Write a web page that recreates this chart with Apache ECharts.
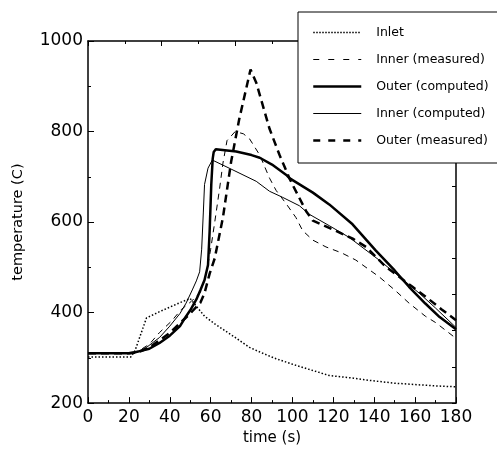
<!DOCTYPE html>
<html>
<head>
<meta charset="utf-8">
<script src="https://cdn.jsdelivr.net/npm/echarts@6/dist/echarts.min.js"></script>
<style>
  html, body { margin: 0; padding: 0; background: #fff; }
  #chart { width: 497px; height: 451px; }
</style>
</head>
<body>
<div id="chart"></div>
<script>
// Temperature histories, [time (s), temperature (C)]
const inlet = [[0,302],[10,302],[21,302],[23,316],[28.6,388],[35,402],[40,412],[45,422],[50,431],
  [53,414],[57,392],[62,375],[66,363],[72,345],[79,323],[86,309],[92,298],[100,286],[107,276],
  [118,261],[130,255],[138,250],[150,244],[160,241],[170,238],[180,236]];

const innerMeasured = [[0,310],[20,310],[25,316],[30,330],[35,356],[40.8,381],[45.7,407],[50.6,425],
  [55,445],[58,490],[60,540],[62,600],[64.4,675],[66,730],[68,780],[72,800],[76,795],[79,784],
  [84,748],[88.8,697],[92,670],[97,640],[101.7,610],[105,581],[110,560],[116.4,545],[124,532],
  [131,516],[142.4,479],[150,450],[157,421],[165,392],[170,378],[180,343]];

const outerComputed = [[0,310],[20,310],[23,312],[30,320],[35,333],[40,349],[45,370],[48,392],
  [50,405],[53,429],[55,450],[57,472],[58.7,505],[59.5,580],[60.3,683],[61,740],[61.5,755],
  [62.5,761],[72.5,756],[80,748],[84,742],[90,727],[97,704],[98.5,697],[110,665],[118,639],
  [129.4,595],[140.8,537],[150,493],[157,457],[165,420],[172,390],[180,363]];

const innerComputed = [[0,310],[20,310],[24,313],[28.6,323],[35,345],[40,370],[45,398],[48,421],
  [51,450],[53,470],[54.6,490],[55.6,540],[56.4,620],[57,683],[58.7,719],[60.8,737],[70,717],
  [82.3,690],[88.8,668],[95,655],[103.4,636],[108.3,617],[118,592],[127.8,566],[142.4,516],
  [150,488],[162,443],[170,410],[180,367]];

const outerMeasured = [[0,310],[20,310],[25,313],[30,323],[40,355],[50,398],[55,422],[57,443],
  [59.5,486],[62,520],[66,610],[70,733],[74,828],[79.5,937],[82.3,908],[88.8,806],[93.7,748],
  [98.5,697],[100,683],[106.7,624],[110,603],[121,581],[130,562],[136,545],[145.7,501],
  [158.7,457],[166,432],[173,407],[180,383]];

const FONT = '"DejaVu Sans", Verdana, sans-serif';
const INK = '#000';

// One line style per curve in the plot, and a matching sample for the legend
const styles = {
  'Inlet':            { color: INK, width: 1.5, type: [1.5, 2] },
  'Inner (measured)': { color: INK, width: 1, type: [6, 5] },
  'Outer (computed)': { color: INK, width: 2.5, type: 'solid' },
  'Inner (computed)': { color: INK, width: 1, type: 'solid' },
  'Outer (measured)': { color: INK, width: 2.5, type: [8, 5] }
};
const legendStyles = {
  'Inlet':            { color: INK, width: 1.5, type: [1.5, 1.5] },
  'Inner (measured)': { color: INK, width: 1.2, type: [6, 9] },
  'Outer (computed)': { color: INK, width: 2.5, type: 'solid' },
  'Inner (computed)': { color: INK, width: 1, type: 'solid' },
  'Outer (measured)': { color: INK, width: 2.5, type: [7, 8] }
};

const frameAxis = {
  axisLine: { show: true, onZero: false, lineStyle: { color: INK, width: 1.5 } },
  splitLine: { show: false }
};

const chart = echarts.init(document.getElementById('chart'), null, { renderer: 'canvas' });

chart.setOption({
  animation: false,
  backgroundColor: '#fff',
  grid: { left: 88, right: 41, top: 41, bottom: 43 },
  legend: {
    orient: 'vertical',
    left: 298,
    top: 12,
    itemWidth: 48,
    itemHeight: 14,
    itemGap: 14,
    padding: [14, 60, 16, 14],
    backgroundColor: '#fff',
    borderColor: INK,
    borderWidth: 1,
    selectedMode: false,
    itemStyle: { opacity: 0, color: 'rgba(0,0,0,0)', borderColor: 'rgba(0,0,0,0)', borderWidth: 0 },
    textStyle: { fontFamily: FONT, fontSize: 12.5, color: INK, padding: [0, 0, 0, 10] },
    data: Object.keys(legendStyles).map(name => ({ name, lineStyle: legendStyles[name] }))
  },
  xAxis: [
    Object.assign({
      type: 'value', position: 'bottom', min: 0, max: 180, interval: 20,
      axisTick: { inside: true, length: 6, lineStyle: { color: INK, width: 1 } },
      minorTick: { show: true, splitNumber: 2, length: 3, lineStyle: { color: INK, width: 1 } },
      axisLabel: { color: INK, fontFamily: FONT, fontSize: 17, margin: 6 },
      name: 'time (s)', nameLocation: 'middle', nameGap: 26,
      nameTextStyle: { color: INK, fontFamily: FONT, fontSize: 15 }
    }, frameAxis),
    Object.assign({
      type: 'value', position: 'top', min: 0, max: 200, interval: 40,
      axisTick: { inside: true, length: 5, lineStyle: { color: INK, width: 1 } },
      minorTick: { show: true, splitNumber: 2, length: 3, lineStyle: { color: INK, width: 1 } },
      axisLabel: { show: false }
    }, frameAxis)
  ],
  yAxis: [
    Object.assign({
      type: 'value', position: 'left', min: 200, max: 1000, interval: 200,
      axisTick: { inside: true, length: 6, lineStyle: { color: INK, width: 1 } },
      minorTick: { show: true, splitNumber: 2, length: 3, lineStyle: { color: INK, width: 1 } },
      axisLabel: { color: INK, fontFamily: FONT, fontSize: 17, margin: 5, formatter: v => String(v) },
      name: 'temperature (C)', nameLocation: 'middle', nameGap: 62,
      nameTextStyle: { color: INK, fontFamily: FONT, fontSize: 14.5 }
    }, frameAxis),
    Object.assign({
      type: 'value', position: 'right', min: 0, max: 10, interval: 1,
      axisTick: { inside: true, length: 4, lineStyle: { color: INK, width: 1 } },
      axisLabel: { show: false }
    }, frameAxis)
  ],
  series: [
    { name: 'Inlet', data: inlet },
    { name: 'Inner (measured)', data: innerMeasured },
    { name: 'Outer (computed)', data: outerComputed },
    { name: 'Inner (computed)', data: innerComputed },
    { name: 'Outer (measured)', data: outerMeasured }
  ].map(s => Object.assign({
    type: 'line', xAxisIndex: 0, yAxisIndex: 0, symbol: 'none', showSymbol: false,
    lineStyle: styles[s.name], itemStyle: { color: INK }, emphasis: { disabled: true }
  }, s))
});
</script>
</body>
</html>
